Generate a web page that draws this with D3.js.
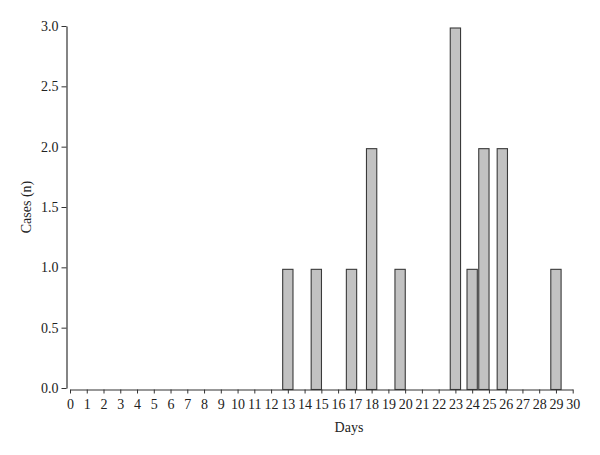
<!DOCTYPE html>
<html>
<head>
<meta charset="utf-8">
<script src="https://cdn.jsdelivr.net/npm/d3@7"></script>
<style>
  body { margin: 0; background: #fff; }
  svg, .axis, .axis text { font-family: "Liberation Serif", "DejaVu Serif", serif; }
  .axis text { font-size: 14px; fill: #222; }
  .axis path, .axis line { stroke: #333; }
</style>
</head>
<body>
<svg width="600" height="455"></svg>
<script>
// day position of each bar and number of cases
const days  = [13, 14.7, 16.8, 18, 19.7, 23, 24, 24.7, 25.8, 29];
const cases = [1, 1, 1, 2, 1, 3, 1, 2, 2, 1];
const xTicks = d3.range(0, 31);
const yTicks = [0, 0.5, 1, 1.5, 2, 2.5, 3];

const svg = d3.select('svg');

const x = d3.scaleLinear().domain([0, 30]).range([70, 572.7]);
const y = d3.scaleLinear().domain([0, 3]).range([388, 26]);
const barW = 10.3;
const axisY = 389.5;

// bars, standing on the x axis line
svg.selectAll('.bar')
    .data(days.map((d, i) => ({ day: d, n: cases[i] })))
    .enter().append('rect')
    .attr('class', 'bar')
    .attr('x', d => x(d.day) - barW / 2)
    .attr('width', barW)
    .attr('y', d => y(d.n) + 2)
    .attr('height', d => axisY - y(d.n) - 2)
    .attr('fill', '#c2c2c2')
    .attr('stroke', '#3a3a3a')
    .attr('stroke-width', 1.1);

// y axis
svg.append('g')
    .attr('class', 'axis')
    .attr('transform', 'translate(66.5,0)')
    .call(d3.axisLeft(y).tickValues(yTicks).tickFormat(d3.format('.1f'))
        .tickSize(5).tickSizeOuter(0).tickPadding(3));

// x axis (slightly detached, below the y range)
svg.append('g')
    .attr('class', 'axis')
    .attr('transform', 'translate(0,' + axisY + ')')
    .call(d3.axisBottom(x).tickValues(xTicks).tickFormat(d3.format('d'))
        .tickSize(4).tickSizeOuter(0).tickPadding(6));

svg.selectAll('.axis .domain').attr('stroke-width', 1.2);

// titles
svg.append('text')
    .attr('x', 349)
    .attr('y', 432)
    .attr('text-anchor', 'middle')
    .style('font-size', '14px')
    .attr('fill', '#222')
    .text('Days');

svg.append('text')
    .attr('transform', 'translate(31,207) rotate(-90)')
    .attr('text-anchor', 'middle')
    .style('font-size', '14px')
    .attr('fill', '#222')
    .text('Cases (n)');
</script>
</body>
</html>
